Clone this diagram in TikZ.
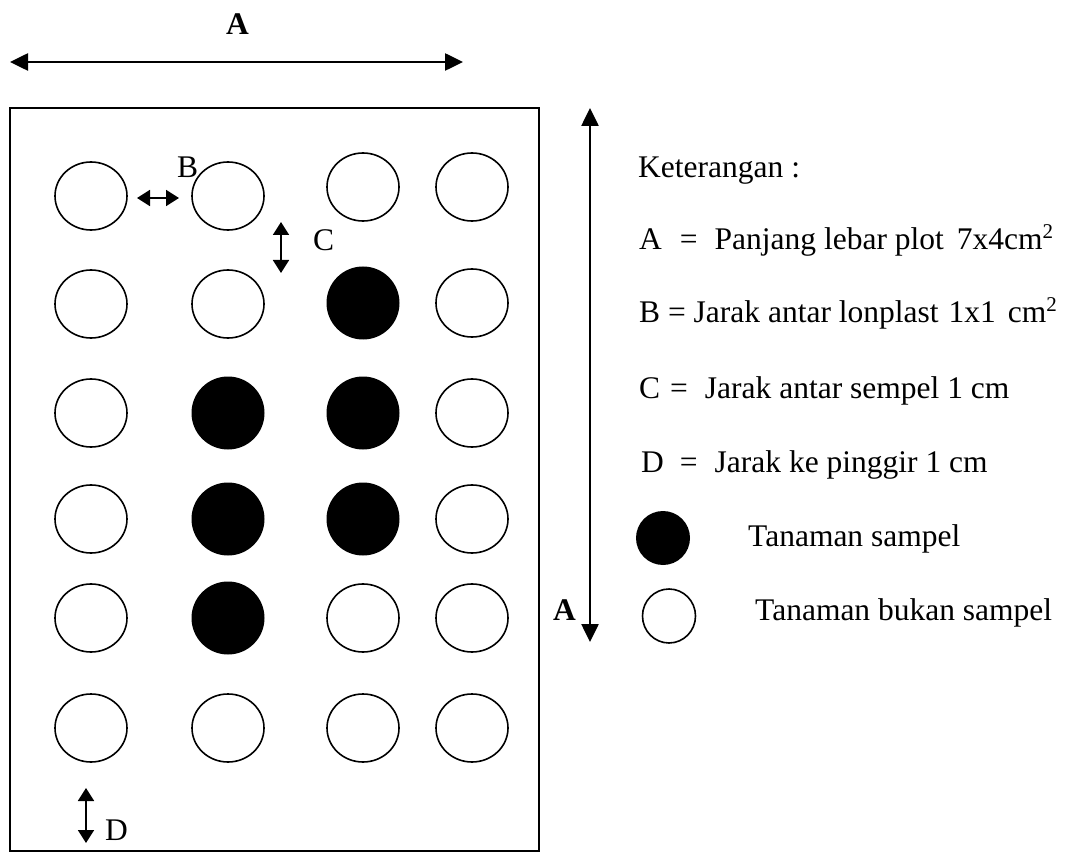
\documentclass[tikz,border=0pt]{standalone}
\usepackage{fontspec}
\setmainfont{Liberation Serif}
\usetikzlibrary{arrows.meta, shapes.geometric}

\newcommand{\sqr}{\raisebox{11pt}{\fontsize{21}{21}\selectfont 2}}

\tikzset{
  bukan/.style={draw, ellipse, line width=1.6pt, minimum width=72pt, minimum height=68pt, inner sep=0pt},
  sampel/.style={ellipse, fill=black, minimum width=73pt, minimum height=73pt, inner sep=0pt},
  dimbig/.style={line width=2.6pt, {Triangle[length=18pt,width=17pt]}-{Triangle[length=18pt,width=17pt]}},
  dimsmall/.style={line width=1.8pt, {Triangle[length=13pt,width=16pt]}-{Triangle[length=13pt,width=16pt]}},
  lbl/.style={anchor=base west, inner sep=0pt, font=\fontsize{31.5}{36}\selectfont},
}

\begin{document}
\begin{tikzpicture}[x=1pt, y=-1pt]
  \useasboundingbox (0,0) rectangle (1069,853);

  % plot
  \draw[line width=2pt] (10,108) rectangle (539,851);

  % plants, sample ones filled
  \foreach \r/\yl/\yr/\ca/\cb/\cc/\cd in {
      1/196/187/bukan/bukan/bukan/bukan,
      2/304/303/bukan/bukan/sampel/bukan,
      3/413/413/bukan/sampel/sampel/bukan,
      4/519/519/bukan/sampel/sampel/bukan,
      5/618/618/bukan/sampel/bukan/bukan,
      6/728/728/bukan/bukan/bukan/bukan} {
      \node[\ca] (p\r a) at (91,\yl) {};
      \node[\cb] (p\r b) at (228,\yl) {};
      \node[\cc] (p\r c) at (363,\yr) {};
      \node[\cd] (p\r d) at (472,\yr) {};
  }

  % dimensions
  \coordinate (aL) at (10,62);
  \coordinate (aR) at (463,62);
  \coordinate (vT) at (590,108);
  \coordinate (vB) at (590,642);
  \coordinate (bL) at (137,198);
  \coordinate (bR) at (179,198);
  \coordinate (cT) at (281,222);
  \coordinate (cB) at (281,273);
  \coordinate (dT) at (86,788);
  \coordinate (dB) at (86,843);
  \draw[dimbig] (aL) -- (aR);
  \draw[dimbig] (vT) -- (vB);
  \draw[dimsmall] (bL) -- (bR);
  \draw[dimsmall] (cT) -- (cB);
  \draw[dimsmall] (dT) -- (dB);

  \node[lbl] (la) at (226,35) {\textbf{A}};
  \node[lbl] (lv) at (553,620) {\textbf{A}};
  \node[lbl] (lb) at (177,178) {B};
  \node[lbl] (lc) at (313,251) {C};
  \node[lbl] (ld) at (105,840) {D};

  % legend
  \node[lbl] (ket) at (638,178) {Keterangan :};
  \node[lbl] (ka) at (639,250) {A\hspace{18pt}=\hspace{17pt}Panjang lebar plot\hspace{13pt}7x4cm\sqr};
  \node[lbl] (kb) at (639,323) {B = Jarak antar lonplast\hspace{10pt}1x1\hspace{12pt}cm\sqr};
  \node[lbl] (kc) at (639,398) {C\hspace{10pt}=\hspace{17pt}Jarak antar sempel 1 cm};
  \node[lbl] (kd) at (641,472) {D\hspace{16pt}=\hspace{17pt}Jarak ke pinggir 1 cm};
  \node[sampel, minimum width=54pt, minimum height=54pt] (ls) at (663,538) {};
  \node[bukan, minimum width=53pt, minimum height=54pt] (lw) at (669,616) {};
  \node[lbl] (ts) at (748,546) {Tanaman sampel};
  \node[lbl] (tw) at (755,620) {Tanaman bukan sampel};
\end{tikzpicture}
\end{document}
